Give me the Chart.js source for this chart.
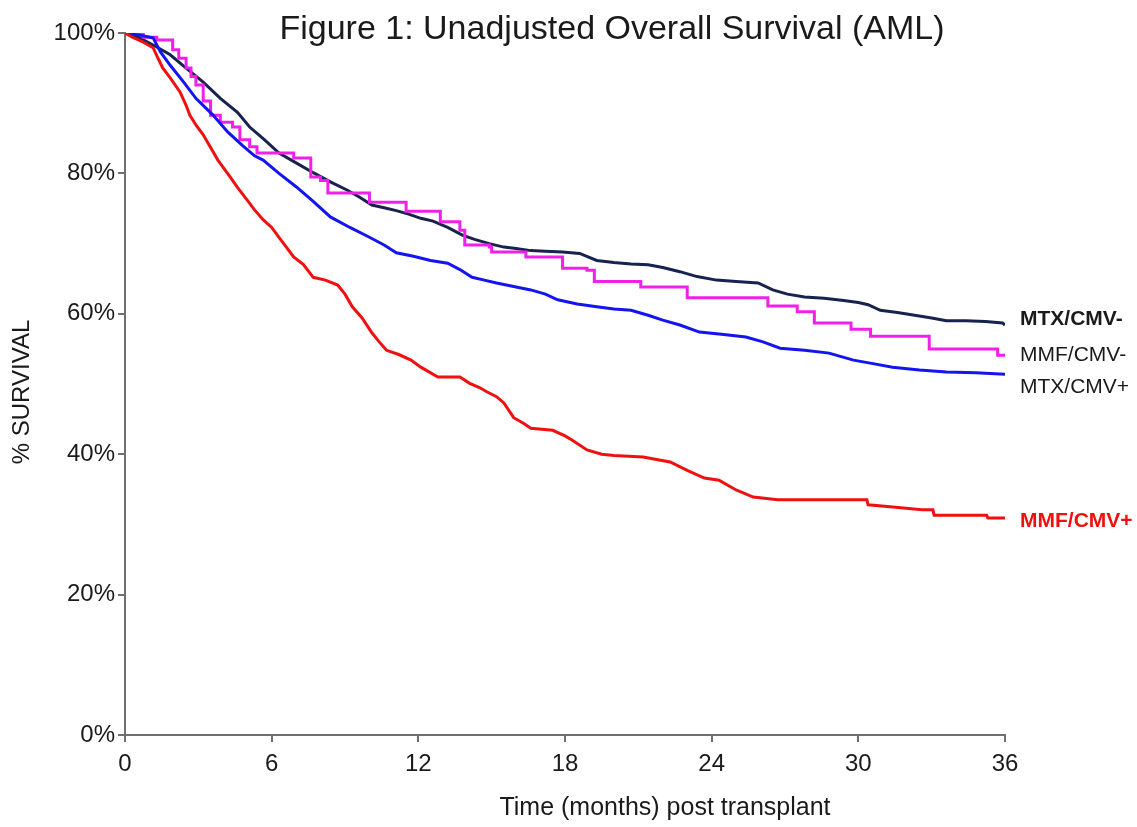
<!DOCTYPE html>
<html>
<head>
<meta charset="utf-8">
<script src="https://cdn.jsdelivr.net/npm/chart.js@4"></script>
<style>
  html, body { margin: 0; padding: 0; background: #fff; }
  #wrap { width: 1137px; height: 827px; }
</style>
</head>
<body>
<div id="wrap"><canvas id="survChart" width="1137" height="827"></canvas></div>
<script>
// curvas de sobrevida (meses, % vivo)
const mtxNegT = [0, 0.6, 1.3, 1.85, 2.5, 3.2, 3.9, 4.6, 5.1, 5.7, 6.3, 7.0, 7.7, 8.4, 9.1, 9.6, 10.1, 10.6, 11.1, 11.6, 12.1, 12.6, 13.2, 13.8, 14.3, 14.9, 15.5, 16.0, 16.6, 17.2, 17.9, 18.6, 19.3, 20.0, 20.7, 21.4, 22.0, 22.7, 23.4, 24.2, 25.0, 25.9, 26.5, 27.1, 27.8, 28.6, 29.4, 30.0, 30.4, 30.9, 31.6, 32.3, 33.0, 33.6, 34.4, 35.2, 35.9, 36];
const mtxNegS = [100, 99.3, 98.0, 96.9, 95.0, 93.0, 90.7, 88.7, 86.6, 84.8, 82.9, 81.5, 80.1, 78.8, 77.6, 76.6, 75.5, 75.1, 74.7, 74.2, 73.6, 73.2, 72.3, 71.2, 70.6, 70.0, 69.5, 69.3, 69.0, 68.9, 68.8, 68.6, 67.6, 67.3, 67.1, 67.0, 66.6, 66.0, 65.3, 64.8, 64.6, 64.4, 63.4, 62.8, 62.4, 62.2, 61.9, 61.6, 61.3, 60.5, 60.2, 59.8, 59.4, 59.0, 59.0, 58.9, 58.7, 58.4];

// MMF/CMV- tem degraus grandes (poucos pacientes)
const mmfNegT = [0, 0.75, 1.3, 1.95, 2.2, 2.5, 2.7, 2.9, 3.2, 3.5, 3.9, 4.4, 4.7, 5.1, 5.4, 6.9, 7.6, 8.0, 8.3, 10.0, 11.5, 12.9, 13.7, 13.9, 14.9, 15.0, 16.4, 17.9, 18.9, 19.2, 21.1, 23.0, 26.3, 27.5, 28.2, 29.7, 30.5, 32.9, 35.7, 36];
const mmfNegS = [100, 99.4, 99.0, 97.6, 96.4, 95.0, 93.8, 92.6, 90.3, 88.3, 87.3, 86.6, 84.8, 83.8, 82.9, 82.2, 79.5, 79.0, 77.2, 75.9, 74.6, 73.1, 71.9, 69.8, 69.5, 68.8, 68.1, 66.5, 66.2, 64.6, 63.8, 62.3, 61.1, 60.3, 58.7, 57.8, 56.8, 55.0, 54.1, 54.1];

const mtxPosT = [0, 0.6, 1.15, 1.45, 1.85, 2.4, 2.9, 3.6, 4.2, 4.8, 5.3, 5.65, 6.3, 7.0, 7.7, 8.4, 9.2, 10.0, 10.6, 11.1, 11.8, 12.5, 13.2, 13.7, 14.2, 14.7, 15.2, 15.9, 16.6, 17.2, 17.7, 18.5, 19.3, 20.0, 20.7, 21.4, 22.0, 22.7, 23.5, 24.4, 25.4, 26.1, 26.8, 27.8, 28.8, 29.3, 29.8, 30.6, 31.4, 32.5, 33.6, 34.8, 36];
const mtxPosS = [100, 99.7, 99.3, 97.3, 95.4, 93.0, 90.7, 88.3, 85.9, 84.0, 82.5, 81.9, 80.0, 78.1, 76.0, 73.8, 72.3, 70.9, 69.8, 68.7, 68.2, 67.6, 67.2, 66.3, 65.2, 64.8, 64.4, 63.9, 63.4, 62.8, 62.0, 61.4, 61.0, 60.7, 60.5, 59.8, 59.1, 58.4, 57.4, 57.1, 56.7, 56.0, 55.1, 54.8, 54.4, 53.9, 53.4, 52.9, 52.4, 52.0, 51.7, 51.6, 51.4];

const mmfPosT = [0, 0.3, 0.75, 1.15, 1.35, 1.55, 1.85, 2.25, 2.5, 2.65, 2.9, 3.2, 3.4, 3.8, 4.3, 4.6, 5.0, 5.3, 5.65, 6.0, 6.3, 6.9, 7.3, 7.7, 8.2, 8.7, 9.0, 9.3, 9.7, 10.1, 10.4, 10.7, 11.2, 11.7, 12.1, 12.8, 13.7, 14.1, 14.5, 14.8, 15.2, 15.5, 15.9, 16.3, 16.6, 17.5, 18.0, 18.3, 18.9, 19.5, 20.0, 21.2, 21.8, 22.3, 23.0, 23.7, 24.3, 25.0, 25.7, 26.7, 30.35, 30.4, 31.3, 32.6, 33.05, 33.1, 35.25, 35.3, 36];
const mmfPosS = [100, 99.4, 98.7, 97.9, 96.4, 95.0, 93.6, 91.6, 89.7, 88.3, 86.9, 85.5, 84.3, 81.9, 79.5, 78.0, 76.2, 74.8, 73.4, 72.3, 70.9, 68.1, 67.0, 65.2, 64.8, 64.1, 62.8, 61.0, 59.4, 57.3, 56.0, 54.8, 54.2, 53.4, 52.4, 51.0, 51.0, 50.1, 49.5, 48.9, 48.2, 47.3, 45.2, 44.4, 43.7, 43.4, 42.6, 42.0, 40.6, 40.0, 39.8, 39.6, 39.2, 38.9, 37.7, 36.6, 36.3, 34.9, 33.9, 33.5, 33.5, 32.8, 32.5, 32.1, 32.1, 31.3, 31.3, 30.9, 30.9];

const xTicks = [0, 6, 12, 18, 24, 30, 36];
const yTicks = [0, 20, 40, 60, 80, 100];
const grupos = ['MTX/CMV-', 'MMF/CMV-', 'MTX/CMV+', 'MMF/CMV+'];

const fonte = "'Liberation Sans', Arial, sans-serif";
const corTexto = '#1a1a1a';
const corEixo = '#707070';

function pontos(ts, ss) {
    return ts.map((t, i) => ({ x: t, y: ss[i] }));
}

function serie(nome, ts, ss, cor, degrau) {
    return {
        label: nome,
        data: pontos(ts, ss),
        borderColor: cor,
        backgroundColor: cor,
        borderWidth: 3,
        stepped: degrau,
        tension: 0,
        pointRadius: 0,
        fill: false
    };
}

// textos fora da area (titulo, eixos, rotulos das curvas)
const textosPlugin = {
    id: 'textos',
    afterDraw(chart) {
        const ctx = chart.ctx;
        const y = chart.scales.y;
        ctx.save();
        ctx.fillStyle = corTexto;
        ctx.textAlign = 'center';
        ctx.textBaseline = 'middle';
        ctx.font = '34px ' + fonte;
        ctx.fillText('Figure 1: Unadjusted Overall Survival (AML)', 612, 30);

        ctx.font = '25px ' + fonte;
        ctx.fillText('Time (months) post transplant', 665, 808);

        ctx.save();
        ctx.translate(22, 392);
        ctx.rotate(-Math.PI / 2);
        ctx.font = '24px ' + fonte;
        ctx.fillText('% SURVIVAL', 0, 0);
        ctx.restore();

        // rotulos no fim de cada curva
        ctx.textAlign = 'left';
        const xr = chart.chartArea.right + 15;
        const finais = [
            { txt: grupos[0], v: mtxNegS[mtxNegS.length - 1], dy: -6, bold: true, cor: corTexto },
            { txt: grupos[1], v: mmfNegS[mmfNegS.length - 1], dy: 0, bold: false, cor: corTexto },
            { txt: grupos[2], v: mtxPosS[mtxPosS.length - 1], dy: 13, bold: false, cor: corTexto },
            { txt: grupos[3], v: mmfPosS[mmfPosS.length - 1], dy: 3, bold: true, cor: '#f01010' }
        ];
        finais.forEach(f => {
            ctx.font = (f.bold ? 'bold ' : '') + '21px ' + fonte;
            ctx.fillStyle = f.cor;
            ctx.fillText(f.txt, xr, y.getPixelForValue(f.v) + f.dy);
        });
        ctx.restore();
    }
};

const ctx = document.getElementById('survChart').getContext('2d');
new Chart(ctx, {
    type: 'line',
    data: {
        datasets: [
            serie(grupos[3], mmfPosT, mmfPosS, '#f01010', false),
            serie(grupos[2], mtxPosT, mtxPosS, '#1414f0', false),
            serie(grupos[1], mmfNegT, mmfNegS, '#f020e8', true),
            serie(grupos[0], mtxNegT, mtxNegS, '#17224f', false)
        ]
    },
    options: {
        responsive: false,
        animation: false,
        layout: { padding: { top: 33, right: 132, left: 0, bottom: 0 } },
        plugins: {
            legend: { display: false },
            tooltip: { enabled: false }
        },
        scales: {
            x: {
                type: 'linear',
                min: 0,
                max: 36,
                afterFit(s) { s.height = 92; },
                afterBuildTicks(s) { s.ticks = xTicks.map(v => ({ value: v })); },
                grid: { drawOnChartArea: false, drawTicks: true, tickLength: 7, color: corEixo, lineWidth: 2 },
                border: { display: true, color: corEixo, width: 2 },
                ticks: { color: corTexto, padding: 8, maxRotation: 0, font: { family: fonte, size: 24 } }
            },
            y: {
                min: 0,
                max: 100,
                afterFit(s) { s.width = 125; },
                afterBuildTicks(s) { s.ticks = yTicks.map(v => ({ value: v })); },
                grid: { drawOnChartArea: false, drawTicks: true, tickLength: 7, color: corEixo, lineWidth: 2 },
                border: { display: true, color: corEixo, width: 2 },
                ticks: {
                    color: corTexto,
                    padding: 3,
                    font: { family: fonte, size: 24 },
                    callback: v => v + '%'
                }
            }
        }
    },
    plugins: [textosPlugin]
});
</script>
</body>
</html>
